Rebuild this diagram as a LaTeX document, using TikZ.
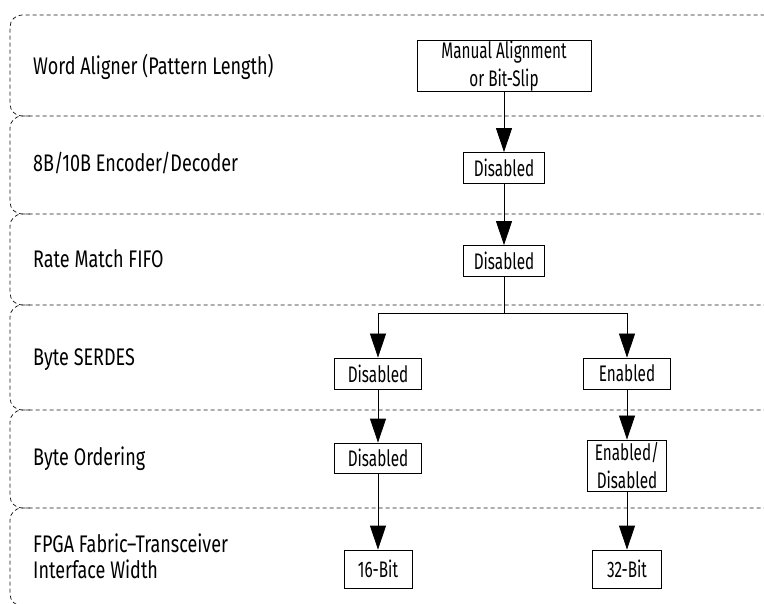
\documentclass[tikz,border=0pt]{standalone}
\usepackage{fontspec}
\setmainfont{Fira Sans}[FakeStretch=0.75]
\newfontfamily\boxff{Fira Sans}[FakeStretch=0.68]
\usetikzlibrary{arrows.meta}
\newcommand{\lblfont}{\fontsize{24}{26}\selectfont}
\newcommand{\boxfont}{\boxff\fontsize{22.5}{28}\selectfont}
\begin{document}
\begin{tikzpicture}[x=1pt,y=-1pt,
 band/.style={draw=black!90, line width=0.75pt, dash pattern=on 4pt off 3pt, rounded corners=12pt},
 box/.style={draw, line width=0.8pt, inner sep=0pt, align=center, font=\boxfont, fill=white},
 lbl/.style={anchor=base west, inner sep=0pt, align=left, font=\lblfont},
 arr/.style={line width=0.8pt, -{Triangle[length=24pt,width=16pt]}},
 ln/.style={line width=0.8pt}]
\useasboundingbox (0,0) rectangle (764,604);
\clip (0,0) rectangle (764,604);
% bands
\foreach \t/\b in {15/116,116/214,214/305,305/410,410/508,508/606}{
  \draw[band] (30,\b) -- (10,\b) -- (10,\t) -- (776,\t) -- (776,\t+40);
}
% labels
\node[lbl] (l1) at (33,75) {Word Aligner (Pattern Length)};
\node[lbl] (l2) at (33,172) {8B/10B Encoder/Decoder};
\node[lbl] (l3) at (33,268) {Rate Match FIFO};
\node[lbl] (l4) at (33,366) {Byte SERDES};
\node[lbl] (l5) at (33,465) {Byte Ordering};
\node[lbl] (l6) at (33,578) {FPGA Fabric--Transceiver\\Interface Width};
% boxes
\node[box, minimum width=174pt, minimum height=50pt] (ma) at (504,66) {Manual Alignment\\or Bit-Slip};
\node[box, minimum width=81pt, minimum height=31pt] (d1) at (504,168) {Disabled};
\node[box, minimum width=81pt, minimum height=31pt] (d2) at (504,261) {Disabled};
\node[box, minimum width=87pt, minimum height=31pt] (s1) at (378,373.5) {Disabled};
\node[box, minimum width=87pt, minimum height=31pt] (s2) at (627,373.5) {Enabled};
\node[box, minimum width=87pt, minimum height=30pt] (o1) at (378,458) {Disabled};
\node[box, minimum width=79pt, minimum height=51pt] (o2) at (627,465.5) {Enabled/\\Disabled};
\node[box, minimum width=68pt, minimum height=38pt] (w1) at (378,569) {16-Bit};
\node[box, minimum width=69pt, minimum height=38pt] (w2) at (627,569) {32-Bit};
% connectors
\coordinate (split) at (504,313);
\draw[arr] (ma) -- (d1);
\draw[arr] (d1) -- (d2);
\draw[ln] (d2) -- (split);
\draw[arr] (split) -| (s1.north);
\draw[arr] (split) -| (s2.north);
\draw[arr] (s1) -- (o1);
\draw[arr] (s2) -- (o2);
\draw[arr] (o1) -- (w1);
\draw[arr] (o2) -- (w2);
\end{tikzpicture}
\end{document}
